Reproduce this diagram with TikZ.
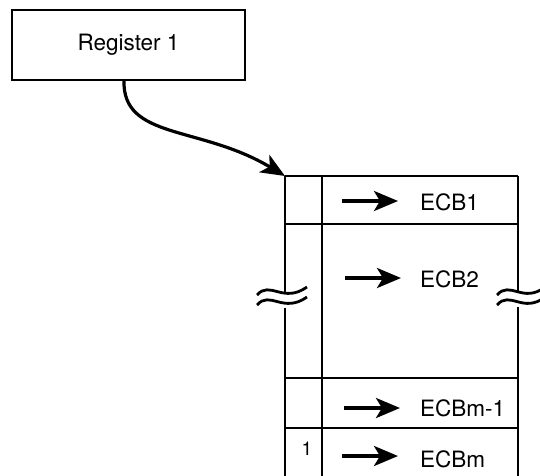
\documentclass[tikz,border=0pt]{standalone}
\usepackage{fontspec}
\setmainfont{TeX Gyre Heros}
\usetikzlibrary{arrows.meta,positioning}
\tikzset{
	reg/.style={draw, line width=2.8pt, minimum width=233pt, minimum height=70pt, inner sep=0pt},
	tabline/.style={line width=2.8pt},
	ptr/.style={-{Stealth[length=24pt,width=20pt,inset=6pt]}, line width=3.4pt},
	ecb/.style={anchor=west, inner sep=0pt}
}
\begin{document}
\begin{tikzpicture}[x=1pt,y=-1pt,font=\fontsize{22.5}{27}\selectfont]
		\useasboundingbox (0,0) rectangle (540,475);
		
		%Register
		\node[reg] (reg) at (128.5,45) {Register 1};
		\coordinate (tab) at (285,176);
		\draw[ptr, line width=3.2pt] (124,80) .. controls (122,140) and (200,125) .. (tab);
		
		%Table
		\draw[tabline] (tab) -- (518,176);
		\draw[tabline] (tab) -- (285,293);
		\draw[tabline] (285,308) -- (285,476);
		\draw[tabline] (322,176) -- (322,476);
		\draw[tabline] (518,176) -- (518,292);
		\draw[tabline] (518,307) -- (518,476);
		\draw[tabline] (285,224) -- (518,224);
		\draw[tabline] (285,378) -- (518,378);
		\draw[tabline] (285,428) -- (518,428);
		
		%Breaks
		\draw[tabline] (257,295) .. controls (270,280) and (283,304) .. (307,287);
		\draw[tabline] (257,305) .. controls (270,290) and (283,314) .. (307,297);
		\draw[tabline] (497,295) .. controls (510,280) and (523,304) .. (545,287);
		\draw[tabline] (497,305) .. controls (510,290) and (523,314) .. (545,297);
		
		%Entries
		\node[ecb] (ecb1) at (420,202) {ECB1};
		\node[ecb] (ecb2) at (420,279) {ECB2};
		\node[ecb] (ecbm1) at (420,408) {ECBm-1};
		\node[ecb] (ecbm) at (420,459) {ECBm};
		\node[font=\fontsize{19}{23}\selectfont] (one) at (307,449) {1};
		
		\coordinate (p1) at (342,201);
		\coordinate (p2) at (345,278);
		\coordinate (p3) at (344,408);
		\coordinate (p4) at (342,456);
		\draw[ptr] (p1) -- ++(56,0);
		\draw[ptr] (p2) -- ++(56,0);
		\draw[ptr] (p3) -- ++(56,0);
		\draw[ptr] (p4) -- ++(56,0);
		
\end{tikzpicture}
\end{document}
